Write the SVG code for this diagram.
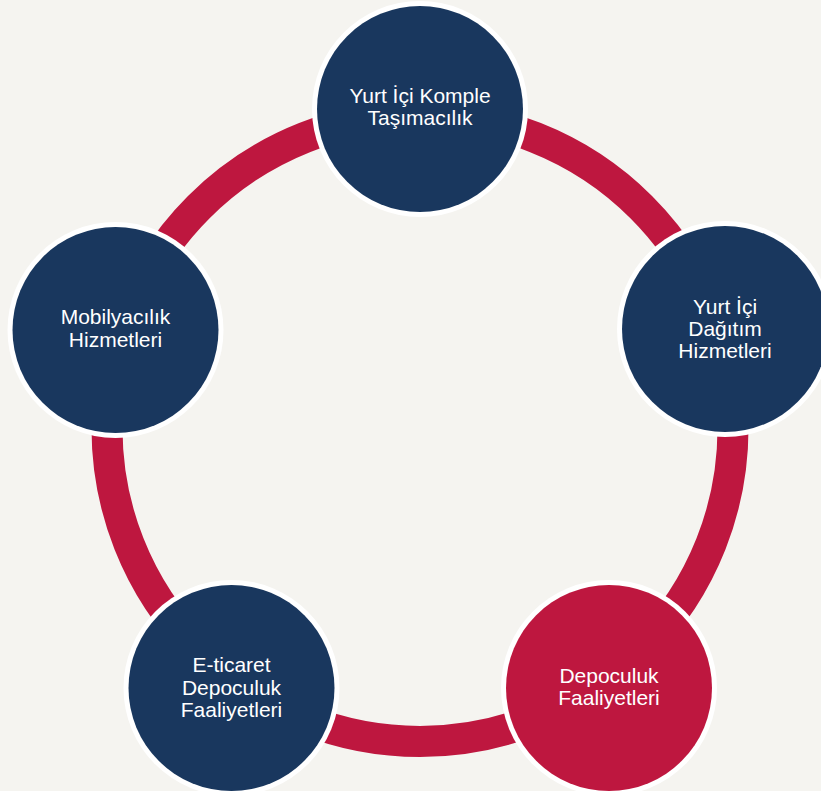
<svg xmlns="http://www.w3.org/2000/svg" width="821" height="791" viewBox="0 0 821 791">
<style>
.bg{fill:#F5F4F0}
.ring{fill:none;stroke:#BE173F;stroke-width:31}
.halo{fill:#FFFFFF}
.navy{fill:#19375E}
.red{fill:#BE173F}
text{font-family:"Liberation Sans",Arial,sans-serif;font-size:21px;fill:#FFFFFF;text-anchor:middle}
</style>
<rect class="bg" x="0" y="0" width="821" height="791"/>
<g id="connectors">
<circle class="ring" cx="420" cy="428.5" r="313"/>
</g>
<g id="node-yurt-ici-komple">
<circle class="halo" cx="420" cy="109" r="108"/>
<circle class="navy" cx="420" cy="109" r="103"/>
<text x="420" y="103">Yurt İçi Komple</text>
<text x="420" y="125">Taşımacılık</text>
</g>
<g id="node-yurt-ici-dagitim">
<circle class="halo" cx="725" cy="329" r="108"/>
<circle class="navy" cx="725" cy="329" r="103"/>
<text x="725" y="314">Yurt İçi</text>
<text x="725" y="336">Dağıtım</text>
<text x="725" y="358">Hizmetleri</text>
</g>
<g id="node-depoculuk">
<circle class="halo" cx="609" cy="688" r="108"/>
<circle class="red" cx="609" cy="688" r="103"/>
<text x="609" y="683">Depoculuk</text>
<text x="609" y="705">Faaliyetleri</text>
</g>
<g id="node-eticaret">
<circle class="halo" cx="231.5" cy="688" r="108"/>
<circle class="navy" cx="231.5" cy="688" r="103"/>
<text x="231.5" y="672">E-ticaret</text>
<text x="231.5" y="694.5">Depoculuk</text>
<text x="231.5" y="717">Faaliyetleri</text>
</g>
<g id="node-mobilyacilik">
<circle class="halo" cx="115.5" cy="330" r="108"/>
<circle class="navy" cx="115.5" cy="330" r="103"/>
<text x="115.5" y="324">Mobilyacılık</text>
<text x="115.5" y="347">Hizmetleri</text>
</g>
</svg>
